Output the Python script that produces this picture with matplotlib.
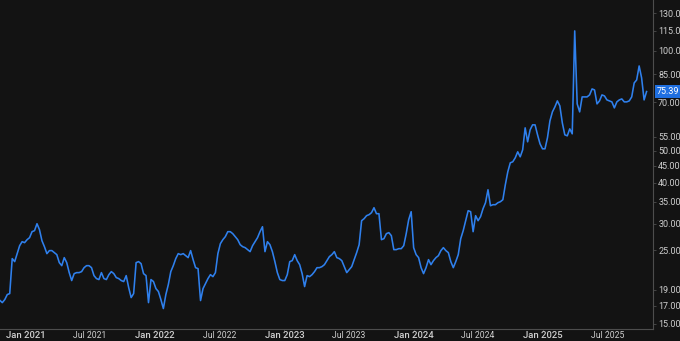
import numpy as np
import pandas as pd
import matplotlib
matplotlib.use("Agg")
import matplotlib.pyplot as plt
from matplotlib.ticker import FixedLocator, NullLocator

# weekly closes, starting Monday 2020-10-19
start_date = "2020-10-19"
prices = [
    17.63, 17.35, 17.72, 18.35, 18.48, 23.57, 23.08, 24.40, 25.79, 26.52,
    26.34, 26.89, 27.27, 28.43, 28.63, 30.05, 28.83, 26.70, 25.61, 24.40,
    24.92, 24.92, 24.57, 24.23, 22.92, 22.44, 23.73, 22.92, 21.38, 20.23,
    21.23, 21.38, 21.38, 21.53, 22.13, 22.44, 22.44, 22.13, 20.94, 20.51,
    20.37, 21.38, 20.51, 20.37, 21.08, 21.53, 21.23, 20.65, 20.51, 20.23,
    20.09, 20.94, 19.27, 17.97, 18.48, 22.92, 23.08, 22.76, 21.23, 20.94,
    17.35, 20.37, 20.09, 19.13, 18.74, 17.72, 16.65, 18.35, 19.67, 21.53,
    22.44, 23.57, 24.40, 24.23, 24.40, 24.06, 23.73, 24.92, 23.40, 22.13,
    21.98, 17.60, 19.13, 19.81, 20.51, 21.08, 20.79, 21.38, 24.40, 26.15,
    26.89, 27.46, 28.43, 28.43, 28.04, 27.46, 26.89, 25.97, 25.61, 25.44,
    25.09, 24.74, 25.79, 26.52, 27.27, 28.43, 29.43, 24.74, 26.52, 25.97,
    24.74, 23.08, 21.38, 20.37, 20.23, 20.23, 21.08, 23.08, 23.24, 24.23,
    23.24, 22.60, 21.23, 19.40, 20.94, 20.79, 21.08, 21.53, 22.13, 22.13,
    22.29, 22.60, 23.24, 23.90, 24.23, 24.74, 23.73, 23.57, 23.24, 22.29,
    21.38, 21.83, 22.29, 23.40, 24.57, 25.97, 30.69, 31.12, 31.78, 32.00,
    32.45, 33.59, 32.22, 32.22, 26.89, 27.08, 28.04, 28.24, 27.65, 25.09,
    25.09, 25.26, 25.26, 25.79, 28.04, 30.90, 32.67, 25.44, 24.23, 23.73,
    22.13, 21.23, 22.13, 23.40, 22.60, 23.24, 23.73, 24.06, 24.92, 25.44,
    24.92, 24.57, 23.08, 22.13, 23.08, 24.23, 27.08, 28.63, 30.69, 32.90,
    32.67, 28.43, 31.78, 30.69, 31.56, 33.36, 34.78, 38.06, 34.06, 34.30,
    34.30, 34.78, 35.02, 35.51, 39.41, 43.14, 45.92, 46.24, 47.54, 49.57,
    47.87, 50.26, 58.56, 53.14, 57.76, 59.80, 59.80, 55.79, 52.40, 50.61,
    50.61, 54.64, 61.48, 65.45, 67.76, 70.65, 68.23, 60.63, 55.79, 55.40,
    58.15, 56.18, 115.0, 69.19, 65.45, 72.64, 72.64, 72.64, 73.66, 76.79,
    76.26, 69.19, 70.65, 73.66, 73.14, 71.14, 70.65, 70.16, 67.29, 70.16,
    71.14, 71.63, 70.16, 70.16, 70.65, 72.64, 80.06, 81.75, 90.10, 82.89,
    71.14, 75.39,
]
last_price = 75.39

y_ticks = [15, 17, 19, 25, 30, 35, 40, 45, 50, 55, 70, 85, 100, 115, 130]
x_tick_dates = ["2021-01-01", "2021-07-01", "2022-01-01", "2022-07-01",
                "2023-01-01", "2023-07-01", "2024-01-01", "2024-07-01",
                "2025-01-01", "2025-07-01"]
x_tick_labels = ["Jan 2021", "Jul 2021", "Jan 2022", "Jul 2022", "Jan 2023",
                 "Jul 2023", "Jan 2024", "Jul 2024", "Jan 2025", "Jul 2025"]

bg = "#131313"
line_color = "#2f80ed"
spine_color = "#4d4d4d"
text_color = "#cfcfcf"
tag_color = "#1f6fe0"

plt.rcParams["font.family"] = ["Roboto", "DejaVu Sans"]

dates = pd.date_range(start_date, periods=len(prices), freq="7D")

fig = plt.figure(figsize=(6.8, 3.41), dpi=100, facecolor=bg)
ax = fig.add_axes([0, 12.5 / 341, 653.3 / 680, 328.5 / 341])
ax.set_facecolor(bg)

ax.plot(dates, prices, color=line_color, lw=1.15, solid_joinstyle="round")

ax.set_yscale("log")
ax.set_ylim(14.49, 142.6)
ax.set_xlim(pd.Timestamp("2020-10-19 12:00"), pd.Timestamp("2025-11-08"))

# right hand price axis
ax.yaxis.tick_right()
ax.yaxis.set_major_locator(FixedLocator(y_ticks))
ax.yaxis.set_minor_locator(NullLocator())
ax.set_yticklabels([f"{v:.2f}" for v in y_ticks])
ax.tick_params(axis="y", which="major", length=2, width=0.6, color=spine_color,
               pad=1.5, labelsize=6.5, labelcolor=text_color)

# time axis
ax.set_xticks(pd.to_datetime(x_tick_dates))
ax.set_xticklabels(x_tick_labels)
ax.tick_params(axis="x", which="major", length=1.5, width=0.6, color=spine_color,
               pad=0.3, labelsize=6.2, labelcolor=text_color)
ax.xaxis.set_minor_locator(NullLocator())
for lbl in ax.get_xticklabels():
    if lbl.get_text().startswith("Jan"):
        lbl.set_fontweight("medium")
        lbl.set_fontsize(6.8)
    else:
        lbl.set_fontsize(6.2)

for side in ["left", "top"]:
    ax.spines[side].set_visible(False)
for side in ["right", "bottom"]:
    ax.spines[side].set_color(spine_color)
    ax.spines[side].set_linewidth(0.8)

# last price tag
ax.annotate(f"{last_price:.2f}", xy=(1, last_price), xycoords=ax.get_yaxis_transform(),
            xytext=(2.2, 0), textcoords="offset points", ha="left", va="center",
            fontsize=6.5, color="white", annotation_clip=False,
            bbox=dict(boxstyle="square,pad=0.2", fc=tag_color, ec="none"))

# cut-off label above the top of the scale
ax.annotate("145.00", xy=(1, 145), xycoords=ax.get_yaxis_transform(),
            xytext=(3.5, 0), textcoords="offset points", ha="left", va="center",
            fontsize=6.5, color=text_color, annotation_clip=False)

fig.savefig("out.png", dpi=100, facecolor=bg)
